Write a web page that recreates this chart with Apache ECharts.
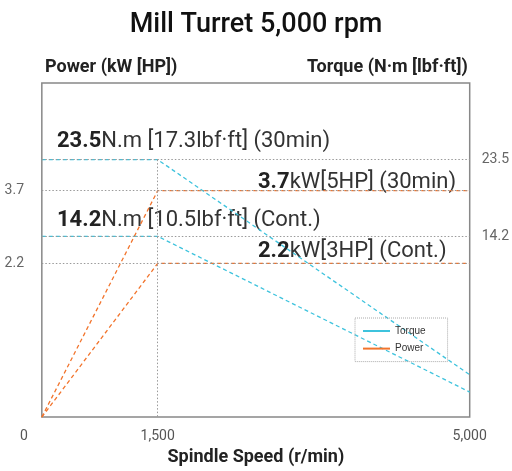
<!DOCTYPE html>
<html>
<head>
<meta charset="utf-8">
<script src="https://cdn.jsdelivr.net/npm/echarts@6/dist/echarts.min.js"></script>
<style>
  html, body { margin: 0; padding: 0; background: #fff; }
  #chart { width: 512px; height: 471px; }
</style>
</head>
<body>
<div id="chart"></div>
<script>
// spindle speed points (r/min)
const speed = [200, 1500, 5000];
// torque curves (N·m)
const torque30 = [23.5, 23.5, -2.6];
const torqueCont = [14.2, 14.2, -4.7];
// power curves (kW)
const power30 = [-0.97, 3.7, 3.7];
const powerCont = [-0.97, 2.2, 2.2];

// tick labels
const speedTicks = [0, 1500, 5000];
const powerTicks = [2.2, 3.7];
const torqueTicks = [14.2, 23.5];

// axis ranges
const powerRange = [-0.97, 5.92];
const torqueRange = [-7.74, 32.8];

// annotation texts
const torqueLbf = [17.3, 10.5];
const powerHP = [5, 3];
const duty = ['30min', 'Cont.'];

const CYAN = '#3ec3dd';
const ORANGE = '#f2742c';
const FONT = 'Roboto';

const pairs = (xs, ys) => xs.map((x, i) => [x, ys[i]]);
const hLine = (y) => [{ coord: [speed[0], y] }, { coord: [speed[2], y] }];

const chart = echarts.init(document.getElementById('chart'));

const refLine = {
    silent: true,
    symbol: 'none',
    label: { show: false },
    lineStyle: { type: [1.5, 2], color: '#999', width: 1 }
};

function dataSeries(name, yIdx, ys, color) {
    return {
        name: name,
        type: 'line',
        yAxisIndex: yIdx,
        data: pairs(speed, ys),
        symbol: 'none',
        z: 3,
        lineStyle: { color: color, width: 1.3, type: [4, 3] },
        itemStyle: { color: color }
    };
}

const annot = (x, y, big, rest) => ({
    type: 'text',
    x: x,
    y: y,
    style: {
        text: '{b|' + big + '}{n|' + rest + '}',
        verticalAlign: 'middle',
        rich: {
            b: { fontFamily: FONT, fontSize: 22, fontWeight: 'bold', fill: '#222' },
            n: { fontFamily: FONT, fontSize: 22, fill: '#333' }
        }
    }
});

chart.setOption({
    animation: false,
    title: {
        text: 'Mill Turret 5,000 rpm',
        left: 'center',
        top: 7,
        textStyle: { fontFamily: FONT, fontSize: 27, fontWeight: 500, color: '#111' }
    },
    legend: {
        data: ['Torque', 'Power'],
        orient: 'vertical',
        left: 355,
        top: 318,
        padding: [8, 22, 8, 8],
        icon: 'rect',
        itemWidth: 27,
        itemHeight: 2,
        itemGap: 7.6,
        borderColor: '#aaa',
        borderWidth: 1,
        borderType: 'dotted',
        textStyle: { fontFamily: 'Liberation Sans', fontSize: 10, color: '#333' }
    },
    grid: { left: 24, right: 42, top: 83, bottom: 48 },
    xAxis: {
        type: 'value',
        min: 0,
        max: 5000,
        name: 'Spindle Speed (r/min)',
        nameLocation: 'middle',
        nameGap: 29,
        nameTextStyle: { fontFamily: FONT, fontSize: 18, fontWeight: 'bold', color: '#222', padding: [0, 0, 0, 18] },
        axisLine: { show: false },
        axisTick: { show: false },
        splitLine: { show: false },
        axisLabel: {
            customValues: speedTicks,
            margin: 12,
            fontFamily: FONT,
            fontSize: 14,
            color: '#555',
            formatter: (v) => v.toLocaleString('en-US')
        }
    },
    yAxis: [
        {
            type: 'value',
            position: 'left',
            min: powerRange[0],
            max: powerRange[1],
            name: 'Power (kW [HP])',
            nameLocation: 'end',
            nameGap: 7,
            nameTextStyle: { fontFamily: FONT, fontSize: 18, fontWeight: 'bold', color: '#222', align: 'left', verticalAlign: 'bottom', padding: [0, 0, 0, 21] },
            axisLine: { show: false },
            axisTick: { show: false },
            splitLine: { show: false },
            axisLabel: { customValues: powerTicks, margin: 0, fontFamily: FONT, fontSize: 14, color: '#666', padding: [0, 0, 8, 0] }
        },
        {
            type: 'value',
            position: 'right',
            min: torqueRange[0],
            max: torqueRange[1],
            name: 'Torque (N·m [lbf·ft])',
            nameLocation: 'end',
            nameGap: 7,
            nameTextStyle: { fontFamily: FONT, fontSize: 18, fontWeight: 'bold', color: '#222', align: 'right', verticalAlign: 'bottom', padding: [0, 2, 0, 0] },
            axisLine: { show: false },
            axisTick: { show: false },
            splitLine: { show: false },
            axisLabel: { customValues: torqueTicks, margin: 12, fontFamily: FONT, fontSize: 14, color: '#666', padding: [0, 0, 8, 0] }
        }
    ],
    series: [
        {
            // frame + power reference lines
            type: 'line',
            yAxisIndex: 0,
            data: [],
            clip: false,
            z: 1,
            markArea: {
                silent: true,
                itemStyle: { color: 'transparent', borderColor: '#888', borderWidth: 1.5 },
                data: [[{ coord: [speed[0], powerRange[0]] }, { coord: [speed[2], powerRange[1]] }]]
            },
            markLine: Object.assign({}, refLine, { data: powerTicks.map(hLine) })
        },
        {
            // torque reference lines
            type: 'line',
            yAxisIndex: 1,
            data: [],
            clip: false,
            z: 1,
            markLine: Object.assign({}, refLine, {
                data: torqueTicks.map(hLine).concat([
                    [{ coord: [speed[1], torque30[1]] }, { coord: [speed[1], torqueRange[0]] }]
                ])
            })
        },
        dataSeries('Torque', 1, torque30, CYAN),
        dataSeries('Torque', 1, torqueCont, CYAN),
        dataSeries('Power', 0, power30, ORANGE),
        dataSeries('Power', 0, powerCont, ORANGE)
    ],
    graphic: [
        annot(57, 141, torque30[1], 'N.m [' + torqueLbf[0] + 'lbf·ft] (' + duty[0] + ')'),
        annot(258, 182, power30[1], 'kW[' + powerHP[0] + 'HP] (' + duty[0] + ')'),
        annot(57, 220, torqueCont[1], 'N.m [' + torqueLbf[1] + 'lbf·ft] (' + duty[1] + ')'),
        annot(258, 251, powerCont[1], 'kW[' + powerHP[1] + 'HP] (' + duty[1] + ')')
    ]
});
</script>
</body>
</html>
